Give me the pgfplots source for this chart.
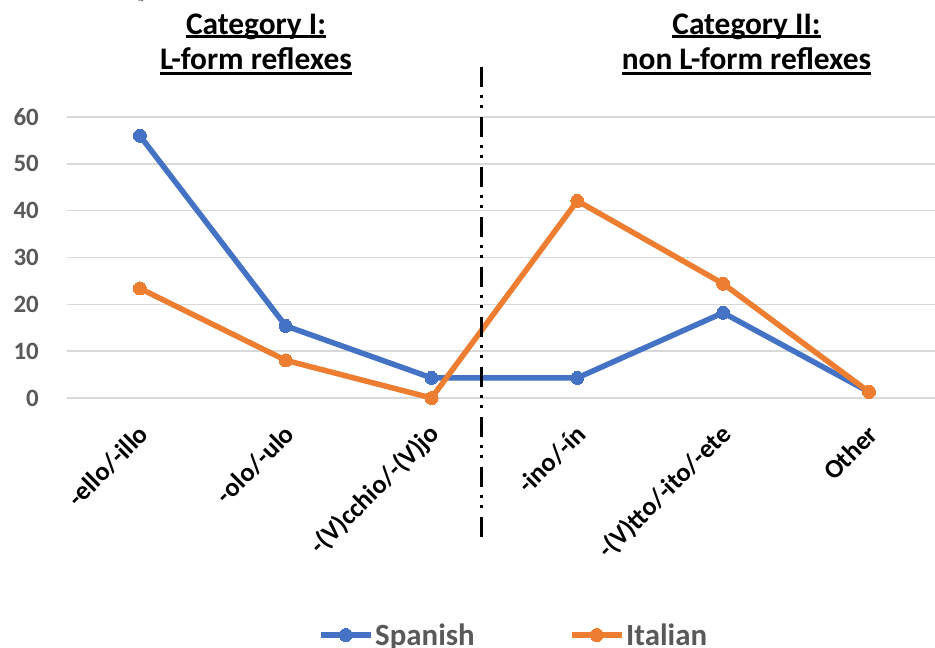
\documentclass[border=0pt]{standalone}
\usepackage{pgfplots}
\pgfplotsset{compat=1.18}
\usepackage{fontspec}
\setmainfont{Carlito}
\definecolor{sp}{HTML}{4472C4}
\definecolor{it}{HTML}{ED7D31}
\definecolor{tk}{HTML}{595959}
\definecolor{gr}{HTML}{D9D9D9}
\begin{document}
\begin{tikzpicture}
\path[use as bounding box] (0bp,0bp) rectangle (935bp,-648bp);
\begin{axis}[
  at={(67bp,-398bp)}, anchor=south west,
  scale only axis, width=868bp, height=281bp,
  xmin=-0.5, xmax=5.453, ymin=0, ymax=60,
  clip=false,
  axis line style={draw=none},
  major tick length=0pt,
  ymajorgrids, grid style={gr, line width=1.4bp},
  ytick={0,10,...,60},
  xtick={0,...,5},
  xticklabels={-ello/-illo, -olo/-ulo, -(V)cchio/-(V)jo, -ino/-ín, -(V)tto/-ito/-ete, Other},
  /pgf/number format/assume math mode=true,
  yticklabel style={font=\fontsize{25}{25}\selectfont\bfseries, text=tk, anchor=east, inner sep=0pt, xshift=-28bp},
  xticklabel style={font=\fontsize{26.5}{26.5}\selectfont\bfseries, text=black, inner sep=0pt, xshift=4bp, yshift=-32bp, anchor=east, rotate=45},
  legend style={at={(axis description cs:0.2892,-0.8434)}, anchor=west, draw=none, fill=none, inner sep=0pt,
    font=\fontsize{31}{31}\selectfont\bfseries, text=tk, nodes={inner sep=1.5bp},
    /tikz/every even column/.append style={column sep=93bp}},
  legend columns=2,
  legend image code/.code={\draw[#1, mark repeat=2, mark phase=2] plot coordinates {(0bp,0bp)(25bp,0bp)(50bp,0bp)};},
]
\addplot[sp, line width=5.5bp, mark=*, mark size=6.5bp, mark options={solid, fill=sp, draw=sp, line width=0pt}] coordinates {
  (0,56.0) (1,15.4) (2,4.3) (3,4.3) (4,18.2) (5,1.3)
};
\addlegendentry{Spanish}
\addplot[it, line width=5.5bp, mark=*, mark size=6.5bp, mark options={solid, fill=it, draw=it, line width=0pt}] coordinates {
  (0,23.4) (1,8.05) (2,0) (3,42.1) (4,24.4) (5,1.3)
};
\addlegendentry{Italian}
\draw[black, line width=2.8bp, dash pattern=on 20bp off 8bp on 3bp off 7bp on 3bp off 9bp]
  (axis cs:2.34,70.6) -- (axis cs:2.34,-31.4);
\end{axis}
\node[anchor=base, inner sep=0pt, font=\fontsize{31.5}{31.5}\selectfont\bfseries] (a1) at (256bp,-34bp) {Category I:};
\draw[line width=2.2bp] ([yshift=-2.5bp]a1.base west) -- ([yshift=-2.5bp]a1.base east);
\node[anchor=base, inner sep=0pt, font=\fontsize{31.5}{31.5}\selectfont\bfseries] (a2) at (256bp,-69bp) {L-form reflexes};
\draw[line width=2.2bp] ([yshift=-4.5bp]a2.base west) -- ([yshift=-4.5bp]a2.base east);
\node[anchor=base, inner sep=0pt, font=\fontsize{31.5}{31.5}\selectfont\bfseries] (b1) at (746.5bp,-34bp) {Category II:};
\draw[line width=2.2bp] ([yshift=-2.5bp]b1.base west) -- ([yshift=-2.5bp]b1.base east);
\node[anchor=base, inner sep=0pt, font=\fontsize{31.5}{31.5}\selectfont\bfseries] (b2) at (746.5bp,-69bp) {non L-form reflexes};
\draw[line width=2.2bp] ([yshift=-4.5bp]b2.base west) -- ([yshift=-4.5bp]b2.base east);
\node[anchor=base, inner sep=0pt, font=\fontsize{20}{20}\selectfont] at (143bp,3bp) {$y$};
\end{tikzpicture}
\end{document}
